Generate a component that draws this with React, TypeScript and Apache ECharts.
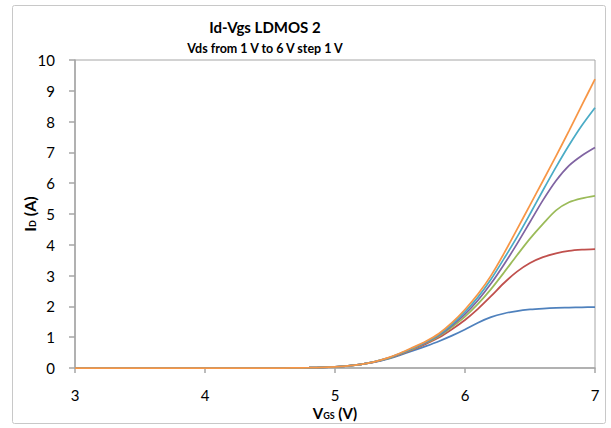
import React, { useEffect, useRef } from "react";
import * as echarts from "echarts";

const vgs = [3.0, 3.1, 3.2, 3.3, 3.4, 3.5, 3.6, 3.7, 3.8, 3.9, 4.0, 4.1, 4.2, 4.3, 4.4, 4.5, 4.6, 4.7, 4.8, 4.9, 5.0, 5.1, 5.2, 5.3, 5.4, 5.5, 5.6, 5.7, 5.8, 5.9, 6.0, 6.1, 6.2, 6.3, 6.4, 6.5, 6.6, 6.7, 6.8, 6.9, 7.0];

const sub = [0, 0, 0, 0, 0, 0, 0, 0, 0, 0, 0, 0, 0, 0, 0, 0, 0, 0.005, 0.01, 0.02, 0.04, 0.07, 0.12];

const vds1 = [...sub, 0.19, 0.29, 0.42, 0.56, 0.71, 0.87, 1.05, 1.25, 1.47, 1.65, 1.77, 1.85, 1.9, 1.93, 1.95, 1.96, 1.97, 1.98];
const vds2 = [...sub, 0.19, 0.3, 0.44, 0.6, 0.78, 0.99, 1.26, 1.56, 1.92, 2.33, 2.76, 3.13, 3.41, 3.6, 3.72, 3.8, 3.84, 3.86];
const vds3 = [...sub, 0.2, 0.3, 0.45, 0.62, 0.81, 1.03, 1.33, 1.67, 2.08, 2.56, 3.1, 3.66, 4.2, 4.68, 5.12, 5.38, 5.51, 5.59];
const vds4 = [...sub, 0.2, 0.31, 0.46, 0.64, 0.83, 1.06, 1.38, 1.75, 2.2, 2.74, 3.36, 4.03, 4.74, 5.45, 6.08, 6.57, 6.9, 7.16];
const vds5 = [...sub, 0.2, 0.31, 0.47, 0.65, 0.85, 1.09, 1.42, 1.82, 2.3, 2.88, 3.55, 4.25, 5.0, 5.77, 6.52, 7.23, 7.88, 8.45];
const vds6 = [...sub, 0.2, 0.32, 0.48, 0.67, 0.87, 1.12, 1.47, 1.9, 2.4, 3.0, 3.72, 4.5, 5.29, 6.08, 6.88, 7.7, 8.54, 9.38];

const seriesNames = ["Vds = 1 V", "Vds = 2 V", "Vds = 3 V", "Vds = 4 V", "Vds = 5 V", "Vds = 6 V"];
const seriesValues = [vds1, vds2, vds3, vds4, vds5, vds6];
const colors = ["#4F81BD", "#C0504D", "#9BBB59", "#8064A2", "#4BACC6", "#F79646"];

const FONT = "Lato";

export default function App() {
  const ref = useRef<HTMLDivElement>(null);
  useEffect(() => {
    if (!ref.current) return;
    const chart = echarts.init(ref.current, undefined, { renderer: "svg" });
    chart.setOption({
      animation: false,
      backgroundColor: "#ffffff",
      graphic: [
        {
          type: "rect",
          shape: { x: 12.5, y: 5.5, width: 593, height: 418, r: 2 },
          style: { fill: "none", stroke: "#c8c8c8", lineWidth: 1 },
          silent: true,
        },
        {
          type: "text",
          x: 265,
          y: 27,
          style: {
            text: "Id-Vgs LDMOS 2",
            font: `bold 15px ${FONT}`,
            fill: "#000",
            align: "center",
            verticalAlign: "middle",
          },
        },
        {
          type: "text",
          x: 265,
          y: 48,
          style: {
            text: "Vds from 1 V to 6 V step 1 V",
            font: `bold 12.5px ${FONT}`,
            fill: "#000",
            align: "center",
            verticalAlign: "middle",
          },
        },
      ],
      grid: {
        left: 75,
        right: 16,
        top: 60,
        bottom: 60,
        show: true,
        borderColor: "#a6a6a6",
        borderWidth: 1,
        backgroundColor: "transparent",
      },
      xAxis: {
        type: "value",
        min: 3,
        max: 7,
        interval: 1,
        name: "{b|V}{s|GS}{b| (V)}",
        nameLocation: "middle",
        nameGap: 37,
        nameMoveOverlap: false,
        nameTextStyle: {
          rich: {
            b: { fontFamily: FONT, fontWeight: "bold", fontSize: 15, color: "#000" },
            s: { fontFamily: FONT, fontWeight: "bold", fontSize: 9, color: "#000", verticalAlign: "bottom", padding: [6, 0, 0, 0] },
          },
        },
        axisLine: { show: true, lineStyle: { color: "#a6a6a6", width: 1.5 } },
        axisTick: { show: true, length: 5, lineStyle: { color: "#a6a6a6", width: 1.5 } },
        axisLabel: { margin: 19, fontFamily: FONT, fontSize: 15, color: "#000" },
        splitLine: { show: false },
      },
      yAxis: {
        type: "value",
        min: 0,
        max: 10,
        interval: 1,
        name: "{b|I}{s|D}{b| (A)}",
        nameLocation: "middle",
        nameGap: 38,
        nameRotate: 90,
        nameMoveOverlap: false,
        nameTextStyle: {
          rich: {
            b: { fontFamily: FONT, fontWeight: "bold", fontSize: 16, color: "#000" },
            s: { fontFamily: FONT, fontWeight: "bold", fontSize: 9, color: "#000", verticalAlign: "bottom", padding: [6, 0, 0, 0] },
          },
        },
        axisLine: { show: true, lineStyle: { color: "#a6a6a6", width: 1.5 } },
        axisTick: { show: true, length: 6, lineStyle: { color: "#a6a6a6", width: 1.5 } },
        axisLabel: { margin: 20, fontFamily: FONT, fontSize: 15, color: "#000" },
        splitLine: { show: false },
      },
      series: seriesValues.map((vals, i) => ({
        name: seriesNames[i],
        type: "line",
        data: vgs.map((x, j) => [x, vals[j]]),
        showSymbol: false,
        smooth: 0.3,
        lineStyle: { color: colors[i], width: 1.75 },
        itemStyle: { color: colors[i] },
        z: 2 + i,
      })),
    });
    return () => chart.dispose();
  }, []);
  return (
    <div
      ref={ref}
      style={{ position: "fixed", left: 0, top: 0, width: 611, height: 428 }}
    />
  );
}
